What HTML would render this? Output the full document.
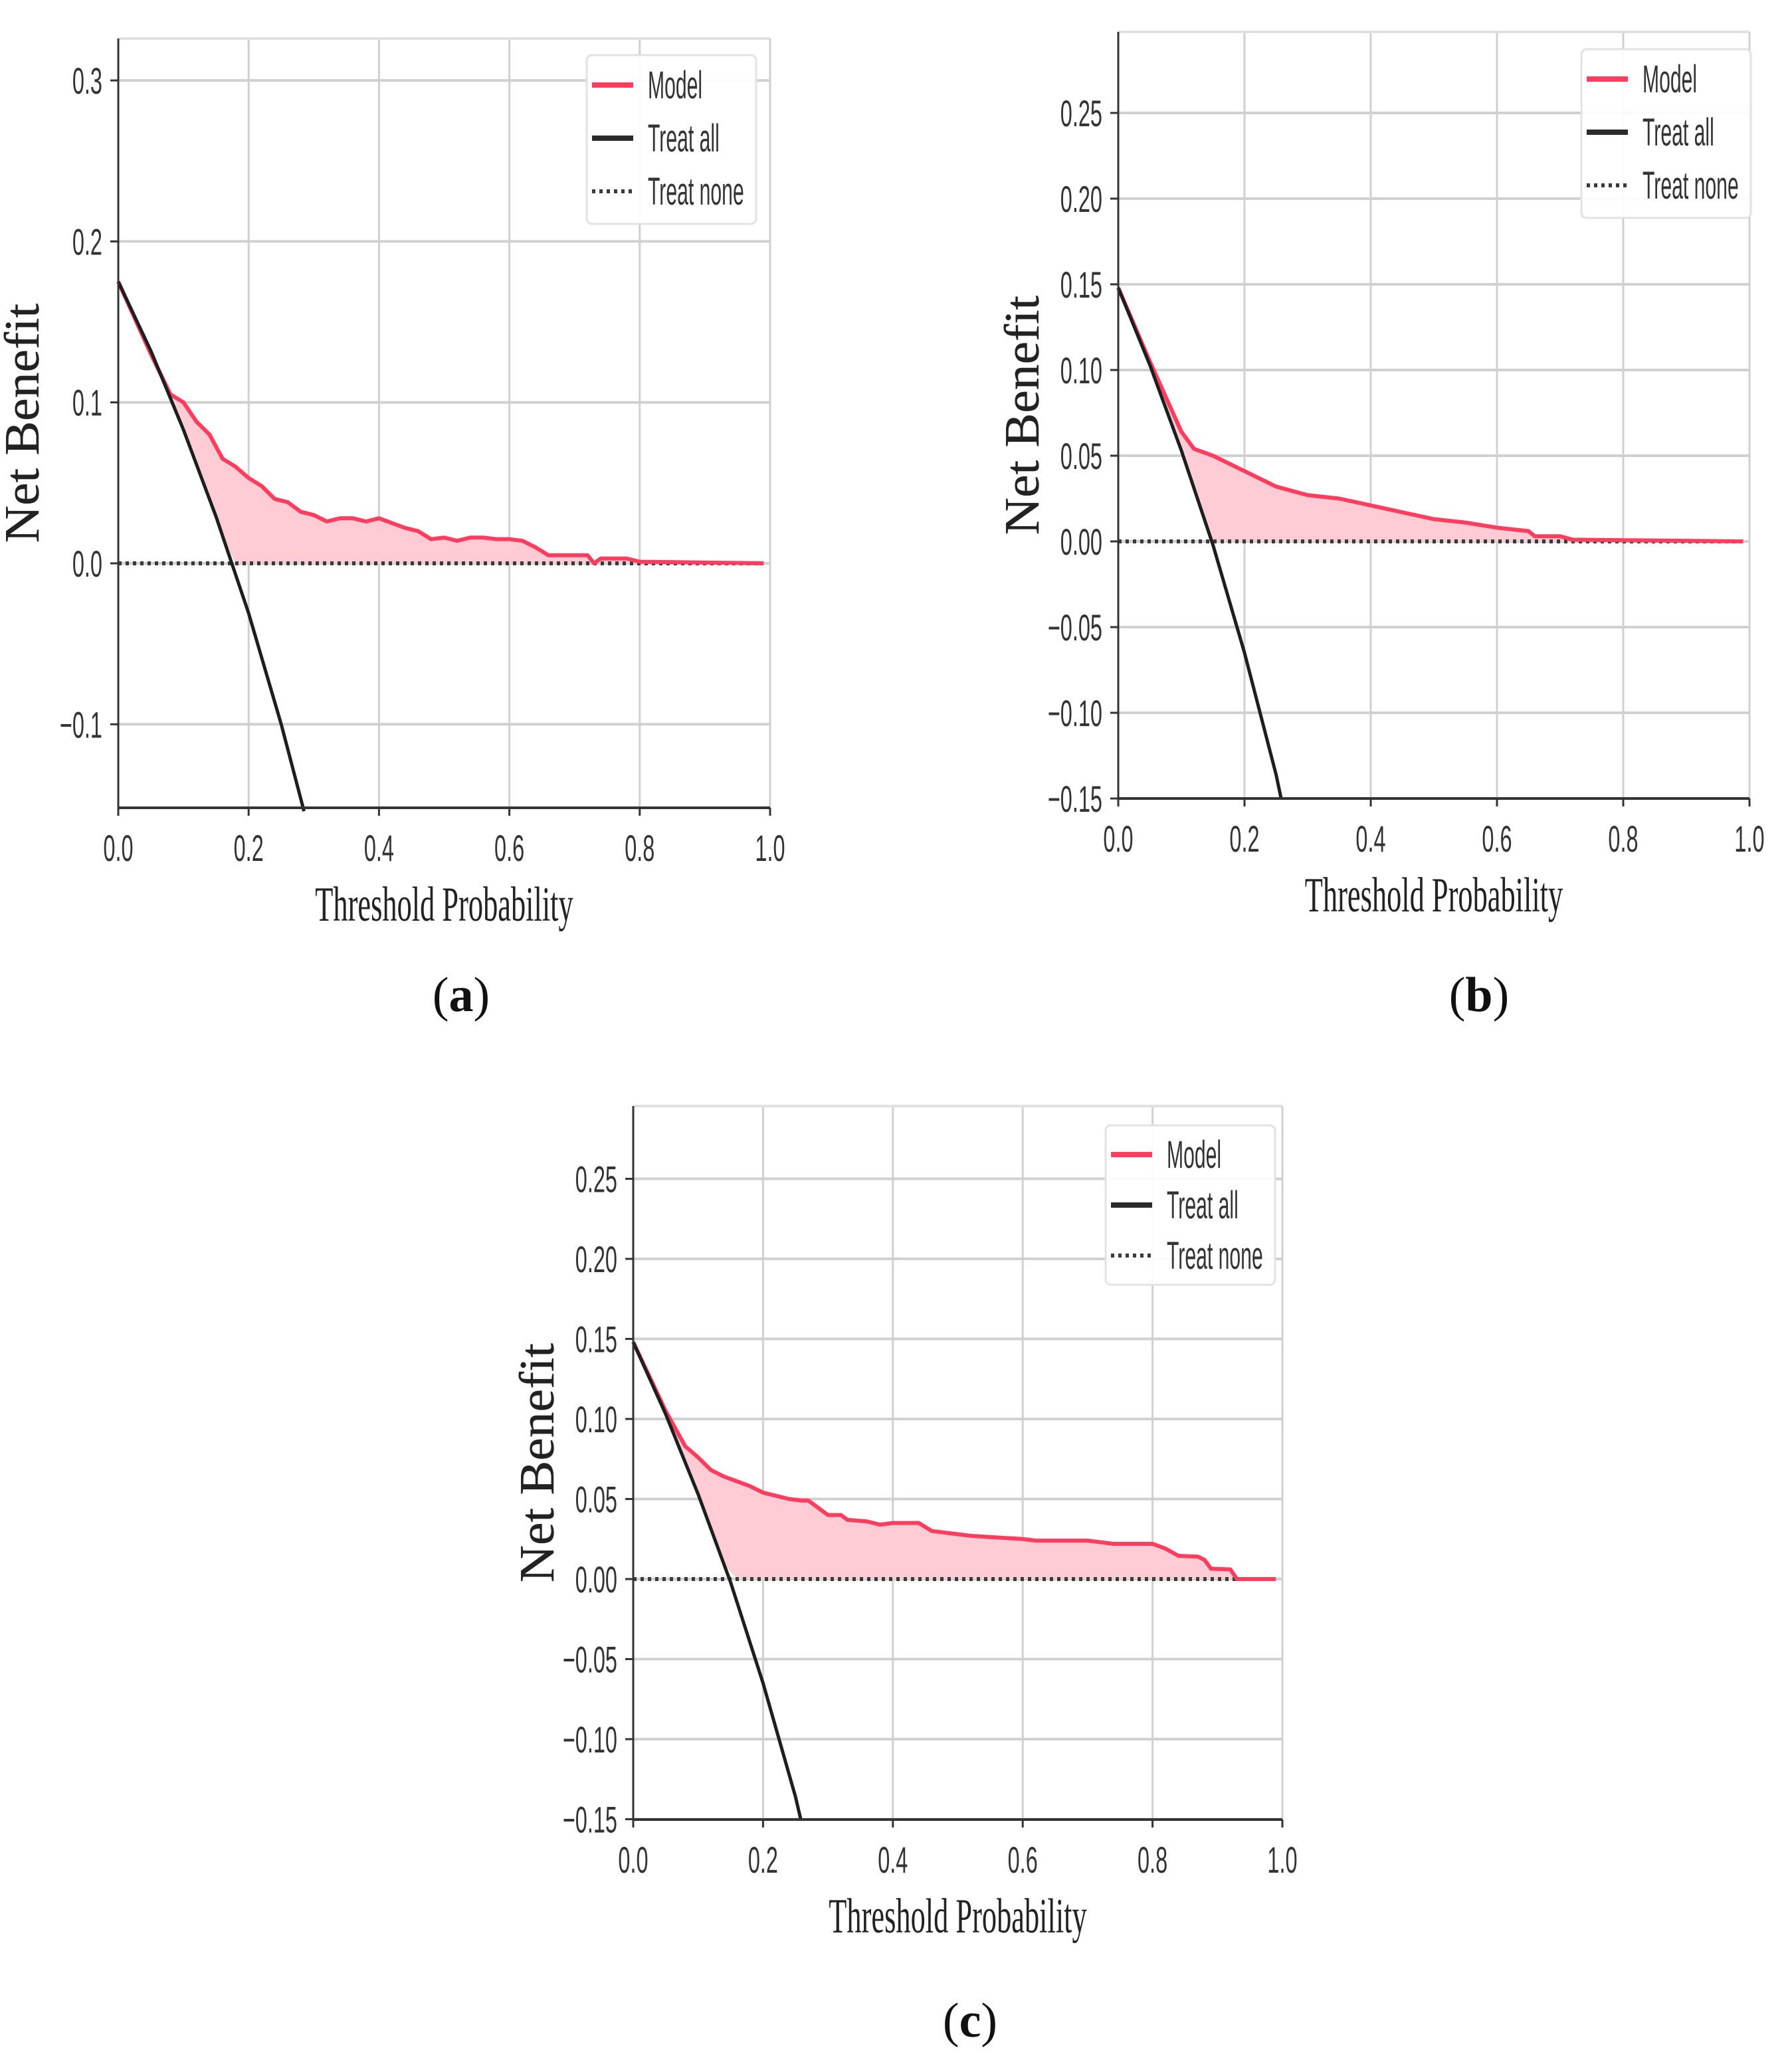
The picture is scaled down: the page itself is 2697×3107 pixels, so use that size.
<!DOCTYPE html>
<html><head><meta charset="utf-8"><style>
html,body{margin:0;padding:0;background:#fff;}
svg{display:block;}
.tick{font-family:"Liberation Sans",sans-serif;font-size:56px;fill:#333;}
.ttl{font-family:"Liberation Serif",serif;font-size:74px;fill:#222;}
.leg{font-family:"Liberation Sans",sans-serif;font-size:58px;fill:#333;}
.plab{font-family:"Liberation Serif",serif;font-size:74px;fill:#111;}
</style></head><body>
<svg id="fig" width="2697" height="3107" viewBox="0 0 2697 3107" xmlns="http://www.w3.org/2000/svg">
<text class="plab" x="694" y="1522" text-anchor="middle">(<tspan font-weight="bold">a</tspan>)</text>
<text class="plab" x="2226" y="1522" text-anchor="middle">(<tspan font-weight="bold">b</tspan>)</text>
<text class="plab" x="1460" y="3066" text-anchor="middle">(<tspan font-weight="bold">c</tspan>)</text>
</svg>
<script>
// ---- data ----
const xTicks = [0,0.2,0.4,0.6,0.8,1.0];
const xTickLabels = ["0.0","0.2","0.4","0.6","0.8","1.0"];
const aYTicks = [0.3,0.2,0.1,0.0,-0.1];
const aYTickLabels = ["0.3","0.2","0.1","0.0","\u22120.1"];
const bcYTicks = [0.25,0.20,0.15,0.10,0.05,0.00,-0.05,-0.10,-0.15];
const bcYTickLabels = ["0.25","0.20","0.15","0.10","0.05","0.00","\u22120.05","\u22120.10","\u22120.15"];

const aModelX = [0,0.05,0.08,0.1,0.12,0.14,0.16,0.18,0.2,0.22,0.24,0.26,0.28,0.3,0.32,0.34,0.36,0.38,0.4,0.42,0.44,0.46,0.48,0.5,0.52,0.54,0.56,0.58,0.6,0.62,0.64,0.66,0.7,0.72,0.73,0.74,0.78,0.8,0.99];
const aModelY = [0.175,0.13,0.105,0.1,0.088,0.08,0.065,0.06,0.053,0.048,0.04,0.038,0.032,0.03,0.026,0.028,0.028,0.026,0.028,0.025,0.022,0.02,0.015,0.016,0.014,0.016,0.016,0.015,0.015,0.014,0.01,0.005,0.005,0.005,0.0,0.003,0.003,0.001,0.0];
const aAllX = [0,0.05,0.1,0.15,0.2,0.25,0.285];
const aAllY = [0.175,0.132,0.083,0.029,-0.031,-0.10,-0.154];

const bModelX = [0,0.05,0.1,0.12,0.15,0.2,0.25,0.3,0.35,0.4,0.45,0.5,0.55,0.6,0.65,0.66,0.7,0.72,0.99];
const bModelY = [0.148,0.105,0.064,0.054,0.05,0.041,0.032,0.027,0.025,0.021,0.017,0.013,0.011,0.008,0.006,0.003,0.003,0.001,0.0];
const bAllX = [0,0.05,0.1,0.15,0.2,0.25,0.258];
const bAllY = [0.148,0.103,0.053,-0.002,-0.065,-0.136,-0.15];

const cModelX = [0,0.05,0.08,0.1,0.12,0.14,0.16,0.18,0.2,0.22,0.24,0.26,0.27,0.3,0.32,0.33,0.36,0.38,0.4,0.44,0.46,0.5,0.52,0.56,0.6,0.62,0.7,0.72,0.74,0.8,0.82,0.84,0.87,0.88,0.89,0.92,0.93,0.99];
const cModelY = [0.148,0.105,0.083,0.076,0.068,0.064,0.061,0.058,0.054,0.052,0.05,0.049,0.049,0.04,0.04,0.037,0.036,0.034,0.035,0.035,0.03,0.028,0.027,0.026,0.025,0.024,0.024,0.023,0.022,0.022,0.019,0.0145,0.014,0.012,0.0065,0.006,0.0,0.0];
const cAllX = [0,0.05,0.1,0.15,0.2,0.25,0.258];
const cAllY = [0.148,0.103,0.053,-0.002,-0.065,-0.136,-0.15];

const NS = "http://www.w3.org/2000/svg";
const fig = document.getElementById('fig');
function mk(tag, parent, attrs){const e=document.createElementNS(NS,tag);for(const k in attrs)e.setAttribute(k,attrs[k]);parent.appendChild(e);return e;}
function stext(parent, x, y, sx, anchor, cls, str){
  const t = mk('text', parent, {x:0,y:0,'text-anchor':anchor,class:cls,transform:'translate('+x+','+y+') scale('+sx+',1)'});
  t.textContent = str;
  return t;
}

function interp(xs, ys, x){
  if(x<=xs[0])return ys[0];
  for(let i=1;i<xs.length;i++){if(x<=xs[i]){const t=(x-xs[i-1])/(xs[i]-xs[i-1]);return ys[i-1]+t*(ys[i]-ys[i-1]);}}
  return -1;
}

function panel(id, P, yTicks, yLabels, mX, mY, tX, tY, L){
  const g = mk('g', fig, {});
  
  
  const sx = v => P.x0 + v * (P.x1 - P.x0);
  const sy = v => P.yz - v * P.ppu;
  xTicks.forEach((v,i)=>{
    const l = mk('line', g, {x1:sx(v),x2:sx(v),y1:P.top,y2:P.bot,stroke:'#d0d0d0','stroke-width':3});
    
    
    mk('line', g, {x1:sx(v),x2:sx(v),y1:P.bot,y2:P.bot+12,stroke:'#333','stroke-width':3});
    const t = stext(g, sx(v), P.bot+80, 0.58, 'middle', 'tick', xTickLabels[i]);
    
    
  });
  yTicks.forEach((v,i)=>{
    const l = mk('line', g, {x1:P.x0,x2:P.x1,y1:sy(v),y2:sy(v),stroke:'#d0d0d0','stroke-width':4});
    
    
    mk('line', g, {x1:P.x0-12,x2:P.x0,y1:sy(v),y2:sy(v),stroke:'#333','stroke-width':3});
    const t = stext(g, P.x0-24, sy(v)+20, 0.58, 'end', 'tick', yLabels[i]);
    
    
  });
  mk('line', g, {x1:P.x0,x2:P.x1,y1:P.top,y2:P.top,stroke:'#e0e0e0','stroke-width':4});
  mk('line', g, {x1:P.x1,x2:P.x1,y1:P.top,y2:P.bot,stroke:'#d0d0d0','stroke-width':3});
  let up = mX.map((x,i)=>sx(x)+','+sy(mY[i]));
  let lo = mX.slice().reverse().map(x=>{const ta=interp(tX,tY,x);return sx(x)+','+sy(Math.max(0,ta));});
  const fa = mk('polygon', g, {points:up.concat(lo).join(' '),fill:'#ffccd6',stroke:'none'});
  
  
  const tn = mk('line', g, {x1:sx(0),x2:sx(0.99),y1:sy(0),y2:sy(0),stroke:'#3a3a3a','stroke-width':6,'stroke-dasharray':'5,6'});
  
  
  const ml = mk('polyline', g, {points:up.join(' '),fill:'none',stroke:'#ff3d5f','stroke-width':6,'stroke-linejoin':'round'});
  
  
  const tl = mk('polyline', g, {points:tX.map((x,i)=>sx(x)+','+sy(tY[i])).join(' '),fill:'none',stroke:'#1e1e1e','stroke-width':5});
  
  
  mk('line', g, {x1:P.x0,x2:P.x0,y1:P.top,y2:P.bot,stroke:'#333','stroke-width':3});
  mk('line', g, {x1:P.x0,x2:P.x1,y1:P.bot,y2:P.bot,stroke:'#333','stroke-width':4});
  const xt = stext(g, (P.x0+P.x1)/2, P.bot+170, 0.6, 'middle', 'ttl', 'Threshold Probability');
  
  
  const cy = (P.top+P.bot)/2, bx = P.x0-120;
  const yt = mk('text', g, {x:0,y:0,'text-anchor':'middle',class:'ttl','font-size':'44','stroke':'#222','stroke-width':'0.4',transform:'translate('+bx+','+cy+') rotate(-90) scale(1.05,1)'});
  yt.textContent = 'Net Benefit';
  
  
  const lg = mk('g', g, {});
  
  
  mk('rect', lg, {x:L.x,y:L.y,width:L.w,height:L.h,rx:8,fill:'#fff','fill-opacity':0.9,stroke:'#e2e2e2','stroke-width':3});
  const names=['Model','Treat all','Treat none'];
  const keys=['legend-model','legend-treat-all','legend-treat-none'];
  names.forEach((n,i)=>{
    const ry = L.y + L.r0 + i*L.dr;
    const e = mk('g', lg, {});
    
    
    if(i===0) mk('line', e, {x1:L.x+8,x2:L.x+70,y1:ry,y2:ry,stroke:'#ff3d5f','stroke-width':8});
    if(i===1) mk('line', e, {x1:L.x+8,x2:L.x+70,y1:ry,y2:ry,stroke:'#2a2a2a','stroke-width':8});
    if(i===2) mk('line', e, {x1:L.x+8,x2:L.x+70,y1:ry,y2:ry,stroke:'#3a3a3a','stroke-width':6,'stroke-dasharray':'5,6'});
    stext(e, L.x+92, ry+20, 0.52, 'start', 'leg', n);
  });
}

panel('a', {x0:178,x1:1159,top:58,bot:1216,yz:848,ppu:2423}, aYTicks, aYTickLabels, aModelX, aModelY, aAllX, aAllY,
  {x:883,y:83,w:255,h:254,r0:45,dr:80});
panel('b', {x0:1683,x1:2633,top:48,bot:1202,yz:815,ppu:2580}, bcYTicks, bcYTickLabels, bModelX, bModelY, bAllX, bAllY,
  {x:2380,y:74,w:255,h:254,r0:45,dr:80});
panel('c', {x0:953,x1:1930,top:1665,bot:2739,yz:2377,ppu:2410}, bcYTicks, bcYTickLabels, cModelX, cModelY, cAllX, cAllY,
  {x:1664,y:1694,w:255,h:240,r0:44,dr:76});
</script>
</body></html>
